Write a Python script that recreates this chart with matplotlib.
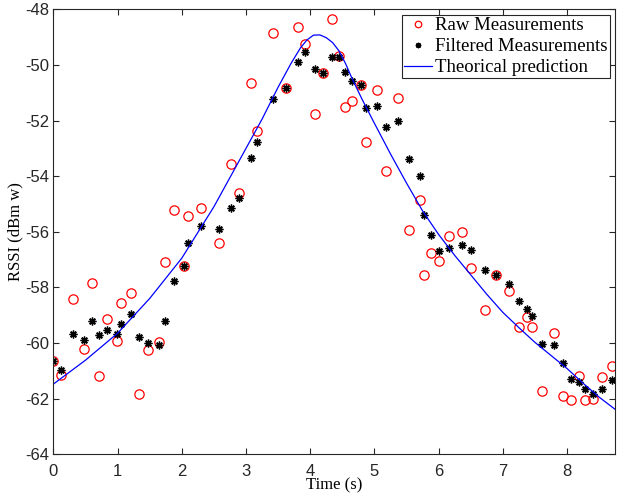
import numpy as np
import matplotlib
matplotlib.use("Agg")
import matplotlib.pyplot as plt

plt.rcParams["axes.unicode_minus"] = False

# ---------------------------------------------------------------------------
# Data
# ---------------------------------------------------------------------------
time_s = [0.0, 0.114, 0.30, 0.47, 0.60, 0.705, 0.835, 0.984, 1.06, 1.207,
          1.33, 1.477, 1.642, 1.738, 1.876, 2.036, 2.098, 2.306, 2.575, 2.772,
          2.89, 3.078, 3.176, 3.415, 3.617, 3.803, 3.912, 4.078, 4.202, 4.337,
          4.451, 4.549, 4.658, 4.798, 4.865, 5.047, 5.187, 5.373, 5.532, 5.706,
          5.779, 5.877, 6.007, 6.16, 6.365, 6.499, 6.717, 6.888, 7.096, 7.256,
          7.37, 7.448, 7.606, 7.79, 7.93, 8.055, 8.189, 8.283, 8.412, 8.547,
          8.697]

raw_rssi = [-60.64, -61.16, -58.42, -60.21, -57.84, -61.18, -59.15, -59.93, -58.56, -58.20,
            -61.83, -60.25, -59.98, -57.10, -55.22, -57.23, -55.45, -55.15, -56.41, -53.57,
            -54.62, -50.65, -52.36, -48.84, -50.82, -48.64, -49.25, -51.75, -50.30, -48.34,
            -49.67, -51.53, -51.30, -50.72, -52.78, -50.89, -53.83, -51.20, -55.95, -54.85,
            -57.55, -56.78, -57.05, -56.15, -56.01, -57.31, -58.83, -57.57, -58.12, -59.43,
            -59.06, -59.43, -61.73, -59.66, -61.91, -62.04, -61.20, -62.04, -62.02, -61.23,
            -60.82]

filtered_rssi = [-60.64, -60.98, -59.69, -59.89, -59.21, -59.71, -59.52, -59.69, -59.33, -58.96,
                 -59.77, -60.00, -60.08, -59.21, -57.78, -57.23, -56.41, -55.78, -55.92, -55.14,
                 -54.80, -53.36, -52.78, -51.23, -50.82, -49.89, -49.55, -50.15, -50.30, -49.70,
                 -49.70, -50.24, -50.57, -50.72, -51.56, -51.47, -52.24, -52.02, -53.38, -54.01,
                 -55.41, -56.12, -56.70, -56.60, -56.46, -56.65, -57.37, -57.57, -57.87, -58.51,
                 -58.77, -59.02, -60.04, -60.06, -60.74, -61.31, -61.39, -61.65, -61.84, -61.65,
                 -61.35]

# theoretical curve
theory_t = [0.0, 0.5, 1.0, 1.5, 2.0, 2.5, 3.0, 3.25, 3.5, 3.7,
            3.85, 3.95, 4.05, 4.15, 4.25, 4.35, 4.45, 4.55, 4.65, 4.8,
            5.0, 5.25, 5.5, 5.75, 6.0, 6.25, 6.5, 6.75, 7.0, 7.25,
            7.5, 7.75, 8.0, 8.25, 8.5, 8.75]
theory_rssi = [-61.48, -60.62, -59.65, -58.40, -56.95, -55.10, -53.00, -51.95, -50.80, -49.95,
               -49.38, -49.10, -48.93, -48.92, -49.02, -49.20, -49.50, -49.95, -50.48, -51.20,
               -52.10, -53.20, -54.25, -55.25, -56.10, -56.85, -57.55, -58.25, -58.90, -59.45,
               -59.98, -60.45, -60.92, -61.45, -61.95, -62.39]

x_ticks = list(range(0, 9))
y_ticks = list(range(-64, -47, 2))

# ---------------------------------------------------------------------------
# Figure
# ---------------------------------------------------------------------------
fig = plt.figure(figsize=(6.17, 5.04), dpi=100)
ax = fig.add_axes([0.0866, 0.099, 0.9104, 0.8825])

ax.plot(time_s, raw_rssi, linestyle="none", marker="o", markersize=6.7,
        markerfacecolor="none", markeredgecolor="#ff0000", markeredgewidth=0.9,
        label="Raw Measurements")
ax.plot(time_s, filtered_rssi, linestyle="none", marker=(8, 2, 0), markersize=5.6,
        color="black", markeredgewidth=1.0, label="Filtered Measurements")
ax.plot(theory_t, theory_rssi, color="#0000ff", linewidth=0.9,
        label="Theorical prediction")

ax.set_xlim(0, 8.75)
ax.set_ylim(-64, -48)
ax.set_xticks(x_ticks)
ax.set_yticks(y_ticks)

tick_font = {"family": "Liberation Sans", "size": 12}
ax.set_xticklabels([str(v) for v in x_ticks], fontdict=tick_font)
ax.set_yticklabels([str(v) for v in y_ticks], fontdict=tick_font)
ax.tick_params(direction="in", top=True, right=True, length=4, width=0.8,
               colors="#262626")
ax.tick_params(axis="x", pad=7)
ax.tick_params(axis="y", pad=3)
for sp in ax.spines.values():
    sp.set_color("#262626")
    sp.set_linewidth(0.8)

ax.set_xlabel("Time (s)", family="Liberation Serif", fontsize=12, labelpad=-1)
ax.set_ylabel("RSSI (dBm w)", family="Liberation Serif", fontsize=12, labelpad=1)

leg = ax.legend(loc="upper right", prop={"family": "Liberation Serif", "size": 13.5},
                fancybox=False, framealpha=1, edgecolor="#262626",
                borderpad=0.12, labelspacing=0.2, handlelength=1.5,
                handletextpad=0.15, borderaxespad=0.3, markerscale=0.7)
leg.get_frame().set_linewidth(0.8)

fig.savefig("out.png", dpi=100)
